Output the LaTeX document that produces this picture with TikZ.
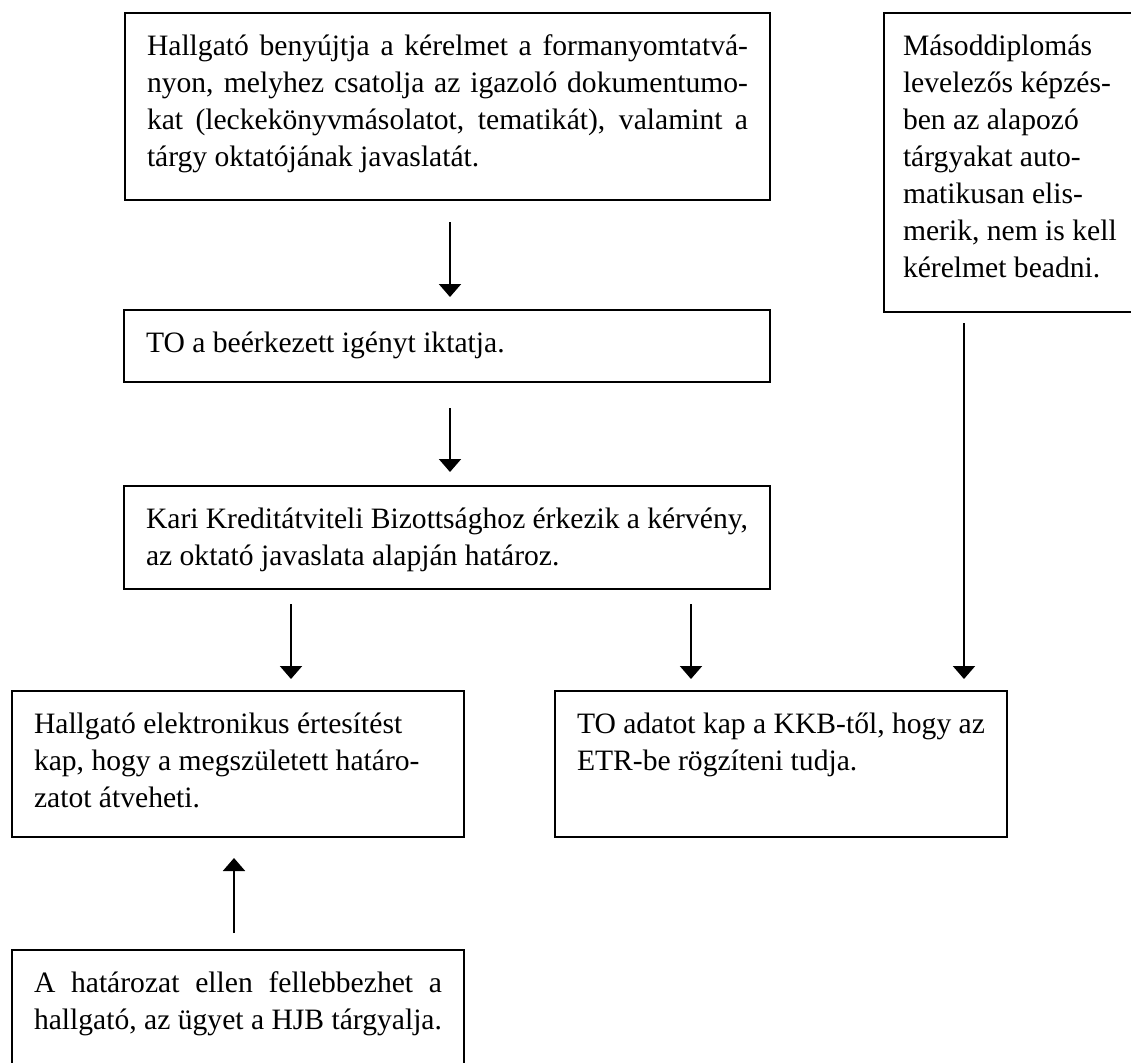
\documentclass[tikz,border=0pt]{standalone}
\usepackage{fontspec}
\setmainfont{Liberation Serif}
\usetikzlibrary{arrows.meta}
\newcommand\Lr[1]{\hbox to\linewidth{#1\hfil}}
\newcommand\Lj[1]{\hbox to\linewidth{#1}}
\newcommand\Tp{\rule{0pt}{21pt}}
\newcommand\Bx[3]{\parbox[c][#2][t]{#1}{\fontsize{14.8pt}{18.5pt}\selectfont #3}}
\begin{document}
\begin{tikzpicture}[x=0.5pt,y=-0.5pt,
  box/.style={draw, line width=1.1pt, inner xsep=11pt, inner ysep=0pt, anchor=north west, outer sep=0pt},
  arr/.style={line width=1pt, -{Triangle[width=11pt,length=6.5pt]}}]
\useasboundingbox (0,0) rectangle (1131,1062);
\clip (0,0) rectangle (1131,1062);
\fill[white] (0,0) rectangle (1131,1062);

\node[box] (b1) at (125,13) {\Bx{300.5pt}{93.5pt}{%
\Lj{\Tp Hallgató benyújtja a kérelmet a formanyomtatvá-}%
\Lj{nyon, melyhez csatolja az igazoló dokumentumo-}%
\Lj{kat (leckekönyvmásolatot, tematikát), valamint a}%
\Lr{tárgy oktatójának javaslatát.}}};

\node[box, inner xsep=9.5pt] (b2) at (884,13) {\Bx{115pt}{149.5pt}{%
\Lr{\Tp Másoddiplomás}%
\Lr{levelezős képzés-}%
\Lr{ben az alapozó}%
\Lr{tárgyakat auto-}%
\Lr{matikusan elis-}%
\Lr{merik, nem is kell}%
\Lr{kérelmet beadni.}}};

\node[box] (b3) at (124,310) {\Bx{301pt}{36pt}{%
\Lr{\Tp TO a beérkezett igényt iktatja.}}};

\node[box] (b4) at (124,486) {\Bx{301pt}{51.5pt}{%
\Lr{\Tp Kari Kreditátviteli Bizottsághoz érkezik a kérvény,}%
\Lr{az oktató javaslata alapján határoz.}}};

\node[box] (b5) at (12,691) {\Bx{204pt}{73pt}{%
\Lr{\Tp Hallgató elektronikus értesítést}%
\Lr{kap, hogy a megszületett határo-}%
\Lr{zatot átveheti.}}};

\node[box] (b6) at (555,691) {\Bx{204pt}{73pt}{%
\Lr{\Tp TO adatot kap a KKB-től, hogy az}%
\Lr{ETR-be rögzíteni tudja.}}};

\node[box] (b7) at (12,950) {\Bx{204pt}{65pt}{%
\Lj{\Tp A határozat ellen fellebbezhet a}%
\Lr{hallgató, az ügyet a HJB tárgyalja.}}};

\coordinate (xa) at (450,0);
\coordinate (xb) at (291,0);
\coordinate (xc) at (691,0);
\coordinate (xd) at (964,0);
\coordinate (xe) at (234,0);

\draw[arr, shorten <=11pt, shorten >=6.5pt] (b1.south -| xa) -- (b3.north -| xa);
\draw[arr, shorten <=13pt, shorten >=7pt] (b3.south -| xa) -- (b4.north -| xa);
\draw[arr, shorten <=7.5pt, shorten >=6pt] (b4.south -| xb) -- (b5.north -| xb);
\draw[arr, shorten <=7.5pt, shorten >=6pt] (b4.south -| xc) -- (b6.north -| xc);
\draw[arr, shorten <=5.5pt, shorten >=6pt] (b2.south -| xd) -- (b6.north -| xd);
\draw[arr, shorten <=8.5pt, shorten >=10.5pt] (b7.north -| xe) -- (b5.south -| xe);
\end{tikzpicture}
\end{document}
